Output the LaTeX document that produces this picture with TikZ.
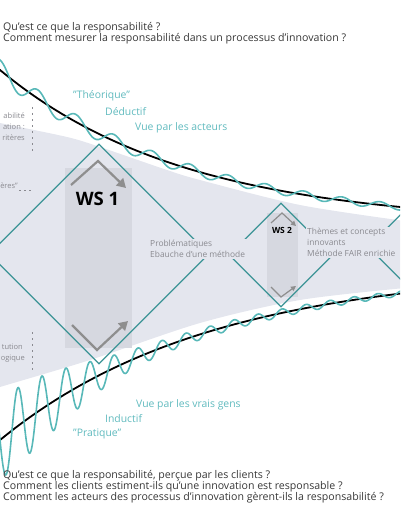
\documentclass[tikz,border=0pt]{standalone}
\usepackage{fontspec}
\setmainfont{Open Sans}
\usetikzlibrary{shapes.geometric,arrows.meta}

\definecolor{funnelgray}{RGB}{228,230,238}
\definecolor{bandgray}{RGB}{214,216,224}
\definecolor{waveteal}{RGB}{88,184,184}
\definecolor{diamteal}{RGB}{60,148,150}
\definecolor{labelteal}{RGB}{96,186,190}
\definecolor{notegray}{RGB}{138,138,144}
\definecolor{chevgray}{RGB}{142,142,142}
\definecolor{qtext}{RGB}{55,55,55}

\begin{document}
\begin{tikzpicture}[
  x=1pt,y=-1pt,
  declare function={
    ytop(\x)=225-155*exp(-\x/186);
    ybot(\x)=268+172*exp(-\x/210);
  },
  ws/.style={
    diamond,
    aspect=1,
    inner sep=0pt,
    draw=diamteal,
    line width=1.3pt
  },
  chev/.style={draw=chevgray,line width=2.2pt,-{Triangle[length=9pt,width=10pt]}},
  smallchev/.style={draw=chevgray,line width=1.2pt,-{Triangle[length=5pt,width=5pt]}},
  curve/.style={draw=black,line width=1.8pt},
  wave/.style={draw=waveteal,line width=1.6pt},
  question/.style={anchor=base west,inner sep=0pt,text=qtext,font=\fontsize{10.6}{11}\selectfont},
  tealnote/.style={anchor=base west,inner sep=0pt,text=labelteal,font=\fontsize{10.4}{12}\selectfont},
  note/.style={inner sep=0pt,text=notegray,font=\fontsize{7.5}{11}\selectfont},
  boxnote/.style={anchor=north west,align=left,inner sep=1.5pt,fill=funnelgray,text=notegray,font=\fontsize{8.4}{11}\selectfont}
]
  \useasboundingbox (0,0) rectangle (400,516);
  \clip (0,0) rectangle (400,516);

  % funnel
  \fill[funnelgray] plot[smooth] coordinates {(-5,121) (0,123) (67,137) (100,147) (167,170) (200,180) (300,205) (405,221)}
    -- plot[smooth] coordinates {(405,288) (300,300) (200,323) (90,360) (0,387) (-5,389)} -- cycle;

  % workshop bands
  \fill[bandgray] (65,168) rectangle (132,348);
  \fill[bandgray] (267,213) rectangle (298,297);

  % workshops
  \node[ws,minimum size=220pt] (ws1) at (99,254) {};
  \node[ws,minimum size=104pt] (ws2) at (281,255) {};
  \node[ws,minimum size=100pt] (ws3) at (418,247) {};

  \draw[chev] (71,185) -- (98,161) -- (126,188);
  \draw[chev] (72,325) -- (97,350) -- (128,321);
  \draw[smallchev] (271,223) -- (282,213) -- (296,226);
  \draw[smallchev] (271,287) -- (281,297) -- (296,286);

  \node[font=\bfseries\fontsize{18.5}{19}\selectfont] (ws1label) at (97.5,198.5) {WS 1};
  \node[font=\bfseries\fontsize{8.5}{9}\selectfont] (ws2label) at (282,230) {WS 2};

  \node[boxnote] (ws1out) at (148.5,238.5) {Problématiques\\Ebauche d'une méthode};
  \node[boxnote] (ws2out) at (305.5,226.5) {Thèmes et concepts\\innovants\\Méthode FAIR enrichie};

  % cut-off notes on the left
  \node[note,anchor=base east] (crit1) at (25,118) {abilité};
  \node[note,anchor=base east] (crit2) at (25,129) {ation :};
  \node[note,anchor=base east] (crit3) at (25,140.5) {ritères};
  \node[note,anchor=base east] (crit4) at (18,188) {ères"};
  \node[note,anchor=base east] (inst1) at (23,349) {tution};
  \node[note,anchor=base east] (inst2) at (25,360) {ogique};
  \draw[notegray,line width=0.8pt,dash pattern=on 2pt off 4pt] (32,107) -- (32,152);
  \draw[notegray,line width=0.8pt,dash pattern=on 2pt off 4pt] (32,332) -- (32,372);
  \draw[notegray,line width=0.7pt,dash pattern=on 2pt off 3pt] (19,190) -- (31,190);

  % boundaries
  \draw[curve] plot[domain=-5:405,samples=120] (\x,{ytop(\x)});
  \draw[curve] plot[domain=-5:405,samples=120] (\x,{ybot(\x)});
  \draw[wave] plot[domain=-2:402,samples=700] (\x,{ytop(\x)+(8*exp(-\x/200)+2)*sin(9.4737*\x-90)});
  \draw[wave] plot[domain=-2:402,samples=900] (\x,{ybot(\x)+(30*exp(-(\x/90)^2)+10*exp(-\x/300))*sin(15*\x)});

  % approaches
  \node[tealnote] (theo) at (73,99) {"Théorique"};
  \node[tealnote] (dedu) at (105,116) {Déductif};
  \node[tealnote] (acteurs) at (135,131) {Vue par les acteurs};
  \node[tealnote] (gens) at (136,407) {Vue par les vrais gens};
  \node[tealnote] (indu) at (105,422) {Inductif};
  \node[tealnote] (prat) at (73,436) {"Pratique"};

  % questions
  \node[question] (qtop1) at (3,30.5) {Qu'est ce que la responsabilité ?};
  \node[question] (qtop2) at (3,41.5) {Comment mesurer la responsabilité dans un processus d'innovation ?};
  \node[question] (qbot1) at (3,478) {Qu'est ce que la responsabilité, perçue par les clients ?};
  \node[question] (qbot2) at (3,489) {Comment les clients estiment-ils qu'une innovation est responsable ?};
  \node[question] (qbot3) at (3,500) {Comment les acteurs des processus d'innovation gèrent-ils la responsabilité ?};
\end{tikzpicture}
\end{document}
